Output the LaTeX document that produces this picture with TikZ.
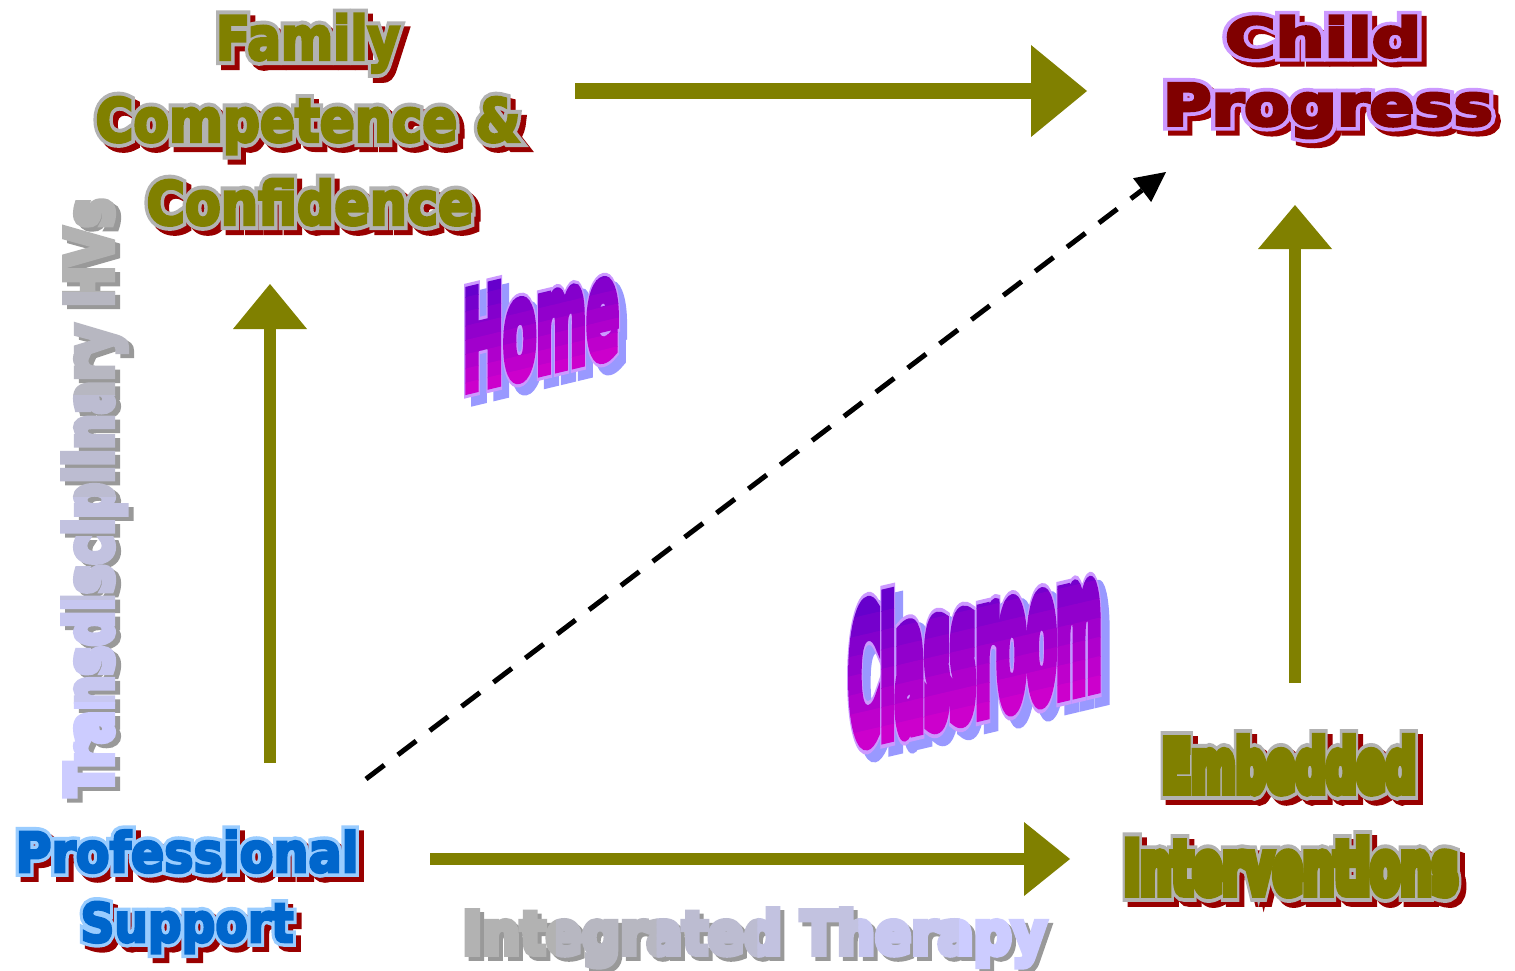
\documentclass[tikz,border=0pt]{standalone}
\usepackage{fontspec}
\usepackage{graphicx}
\usetikzlibrary{arrows.meta}
\newfontfamily\fbFa{DejaVu Sans}[UprightFont={* Bold},FakeBold=5]
\newfontfamily\fbOa{DejaVu Sans}[UprightFont={* Bold},FakeBold=18]
\newfontfamily\fbEf{DejaVu Sans}[UprightFont={* Bold},FakeBold=14]
\newfontfamily\fbEo{DejaVu Sans}[UprightFont={* Bold},FakeBold=25]
\newfontfamily\fbT{DejaVu Sans}[UprightFont={* Bold},FakeBold=10]
\newfontfamily\fbHf{DejaVu Sans}[UprightFont={* Bold},FakeBold=9]
\newfontfamily\fbHo{DejaVu Sans}[UprightFont={* Bold},FakeBold=14]
\newfontfamily\fbCf{DejaVu Sans}[UprightFont={* Bold},FakeBold=12]
\newfontfamily\fbCo{DejaVu Sans}[UprightFont={* Bold},FakeBold=16.5]
\definecolor{olivef}{HTML}{808000}
\definecolor{shred}{HTML}{990000}
\definecolor{ogray}{HTML}{B2B2B2}
\definecolor{maroonf}{HTML}{800000}
\definecolor{lavout}{HTML}{CC99FF}
\definecolor{bluef}{HTML}{0066CC}
\definecolor{blueout}{HTML}{99CCFF}
\definecolor{hshadow}{HTML}{9999FF}
\definecolor{gtop}{HTML}{6600CC}
\definecolor{gbot}{HTML}{CC00CC}
\definecolor{pgray}{HTML}{B2B2B2}
\definecolor{plav}{HTML}{CCCCFF}
\definecolor{pshadow}{HTML}{999999}
\tikzset{
  wa/.style={inner sep=0pt, outer sep=0pt, anchor=base},
  famS/.style={shift={(5,5)}, wa, font=\fbOa\fontsize{#1}{#1}\selectfont, text=shred},
  famO/.style={wa, font=\fbOa\fontsize{#1}{#1}\selectfont, text=ogray},
  famF/.style={wa, font=\fbFa\fontsize{#1}{#1}\selectfont, text=olivef},
  chiS/.style={shift={(5,5)}, wa, font=\fbOa\fontsize{#1}{#1}\selectfont, text=shred},
  chiO/.style={wa, font=\fbOa\fontsize{#1}{#1}\selectfont, text=lavout},
  chiF/.style={wa, font=\fbFa\fontsize{#1}{#1}\selectfont, text=maroonf},
  proS/.style={shift={(5,5)}, wa, font=\fbOa\fontsize{#1}{#1}\selectfont, text=shred},
  proO/.style={wa, font=\fbOa\fontsize{#1}{#1}\selectfont, text=blueout},
  proF/.style={wa, font=\fbFa\fontsize{#1}{#1}\selectfont, text=bluef},
  embS/.style={shift={(5,5)}, wa, font=\fbEo\fontsize{#1}{#1}\selectfont, text=shred},
  embO/.style={wa, font=\fbEo\fontsize{#1}{#1}\selectfont, text=ogray},
  embF/.style={wa, font=\fbEf\fontsize{#1}{#1}\selectfont, text=olivef},
  homeT/.style={wa, yslant=0.24, transform shape},
  homeS/.style={shift={(7,8)}, homeT, font=\fbHo\fontsize{132}{132}\selectfont, text=hshadow},
  homeO/.style={homeT, font=\fbHo\fontsize{132}{132}\selectfont, text=lavout},
  homeF/.style={homeT, font=\fbHf\fontsize{132}{132}\selectfont},
  clsT/.style={wa, yslant=0.235, transform shape},
  clsS/.style={shift={(8,8)}, clsT, font=\fbCo\fontsize{176}{176}\selectfont, text=hshadow},
  clsO/.style={clsT, font=\fbCo\fontsize{176}{176}\selectfont, text=lavout},
  clsF/.style={clsT, font=\fbCf\fontsize{176}{176}\selectfont},
  itT/.style={wa, font=\fbT\fontsize{59}{59}\selectfont},
  itS/.style={shift={(4,4)}, itT, text=pshadow},
  tdT/.style={wa, rotate=90, transform shape, font=\fbT\fontsize{64}{64}\selectfont},
  tdS/.style={shift={(5,4)}, tdT, text=pshadow},
  blockarrow/.style={draw=olivef},
  dasharrow/.style={draw=black, line width=5pt, dash pattern=on 23pt off 17pt,
    -{Triangle[length=30pt 0, width=30pt 0, line width=0pt]}}
}
% word art line: #1 name, #2 position, #3 group, #4 font size, #5 width, #6 text
\newcommand\wa[6]{%
  \node[#3S=#4] (#1s) at #2 {\resizebox{#5}{\height}{#6}};
  \node[#3O=#4] (#1o) at #2 {\resizebox{#5}{\height}{#6}};
  \node[#3F=#4] (#1) at #2 {\resizebox{#5}{\height}{#6}};
}
\begin{document}
\begin{tikzpicture}[x=1pt,y=-1pt]
\useasboundingbox (0,0) rectangle (1515,971);
\fill[white] (0,0) rectangle (1515,971);

% ---------- block arrows ----------
\coordinate (topA) at (575,91);    \coordinate (topB) at (1087,91);
\coordinate (leftA) at (270,763);  \coordinate (leftB) at (270,284);
\coordinate (rightA) at (1295,683);\coordinate (rightB) at (1295,205);
\coordinate (botA) at (430,859);   \coordinate (botB) at (1070,859);
\coordinate (dashA) at (366,779);  \coordinate (dashB) at (1166,172);
\draw[blockarrow, line width=16pt, -{Triangle[length=56pt 0, width=92pt 0, line width=0pt]}] (topA) -- (topB);
\draw[blockarrow, line width=12pt, -{Triangle[length=45pt 0, width=74pt 0, line width=0pt]}] (leftA) -- (leftB);
\draw[blockarrow, line width=12pt, -{Triangle[length=44pt 0, width=74pt 0, line width=0pt]}] (rightA) -- (rightB);
\draw[blockarrow, line width=12pt, -{Triangle[length=46pt 0, width=74pt 0, line width=0pt]}] (botA) -- (botB);
\draw[dasharrow] (dashA) -- (dashB);

% ---------- outlined word art ----------
\wa{fam1}{(308,59.6)}{fam}{60}{184pt}{Family}
\wa{fam2}{(308,141.6)}{fam}{60}{425pt}{Competence \&}
\wa{fam3}{(310,224.6)}{fam}{60}{327pt}{Confidence}
\wa{chi1}{(1323,56.8)}{chi}{54}{196pt}{Child}
\wa{chi2}{(1328,125.5)}{chi}{58}{330pt}{Progress}
\wa{pro1}{(187,872)}{pro}{55}{343pt}{Professional}
\wa{pro2}{(187,942)}{pro}{54}{213pt}{Support}
\wa{emb1}{(1289,791)}{emb}{70}{254pt}{Embedded}
\wa{emb2}{(1291,893)}{emb}{71}{334pt}{Interventions}

% ---------- Home ----------
\node[homeS] (homes) at (541,371) {\resizebox{156pt}{\height}{Home}};
\node[homeO] (homeo) at (541,371) {\resizebox{156pt}{\height}{Home}};
\foreach \i in {0,...,7} {
  \pgfmathsetmacro\ya{ifthenelse(\i==0,-250,-106+\i*14.25)}
  \pgfmathsetmacro\yb{ifthenelse(\i==7,100,-106+(\i+1)*14.25+0.6)}
  \pgfmathsetmacro\yaL{371+(\ya)+0.24*120}
  \pgfmathsetmacro\yaR{371+(\ya)-0.24*120}
  \pgfmathsetmacro\ybL{371+(\yb)+0.24*120}
  \pgfmathsetmacro\ybR{371+(\yb)-0.24*120}
  \pgfmathtruncatemacro\pc{100-\i*100/7}
  \begin{scope}
    \clip (421,\yaL) -- (661,\yaR) -- (661,\ybR) -- (421,\ybL) -- cycle;
    \node[homeF, text=gtop!\pc!gbot] (homefill\i) at (541,371) {\resizebox{156pt}{\height}{Home}};
  \end{scope}
}

% ---------- Classroom ----------
\node[clsS] (clss) at (975,712) {\resizebox{253pt}{\height}{Classroom}};
\node[clsO] (clso) at (975,712) {\resizebox{253pt}{\height}{Classroom}};
\foreach \i in {0,...,7} {
  \pgfmathsetmacro\ya{ifthenelse(\i==0,-300,-142+\i*19.25)}
  \pgfmathsetmacro\yb{ifthenelse(\i==7,120,-142+(\i+1)*19.25+0.6)}
  \pgfmathsetmacro\yaL{712+(\ya)+0.235*160}
  \pgfmathsetmacro\yaR{712+(\ya)-0.235*160}
  \pgfmathsetmacro\ybL{712+(\yb)+0.235*160}
  \pgfmathsetmacro\ybR{712+(\yb)-0.235*160}
  \pgfmathtruncatemacro\pc{100-\i*100/7}
  \begin{scope}
    \clip (815,\yaL) -- (1135,\yaR) -- (1135,\ybR) -- (815,\ybL) -- cycle;
    \node[clsF, text=gtop!\pc!gbot] (clsfill\i) at (975,712) {\resizebox{253pt}{\height}{Classroom}};
  \end{scope}
}

% ---------- Integrated Therapy ----------
\node[itS] (its) at (754.5,954) {\resizebox{584pt}{\height}{Integrated Therapy}};
\foreach \i in {0,...,5} {
  \pgfmathsetmacro\xa{ifthenelse(\i==0,400,455+\i*100.83)}
  \pgfmathsetmacro\xb{ifthenelse(\i==5,1110,455+(\i+1)*100.83+0.6)}
  \pgfmathtruncatemacro\pc{100-\i*20}
  \begin{scope}
    \clip (\xa,870) rectangle (\xb,975);
    \node[itT, text=pgray!\pc!plav] (itfill\i) at (754.5,954) {\resizebox{584pt}{\height}{Integrated Therapy}};
  \end{scope}
}

% ---------- Transdisciplinary HVs ----------
\node[tdS] (tds) at (112,497.5) {\resizebox{598pt}{\height}{Transdisciplinary HVs}};
\foreach \i in {0,...,5} {
  \pgfmathsetmacro\ya{ifthenelse(\i==0,150,190+\i*102.5)}
  \pgfmathsetmacro\yb{ifthenelse(\i==5,850,190+(\i+1)*102.5+0.6)}
  \pgfmathtruncatemacro\pc{100-\i*20}
  \begin{scope}
    \clip (30,\ya) rectangle (150,\yb);
    \node[tdT, text=pgray!\pc!plav] (tdfill\i) at (112,497.5) {\resizebox{598pt}{\height}{Transdisciplinary HVs}};
  \end{scope}
}
\end{tikzpicture}
\end{document}
